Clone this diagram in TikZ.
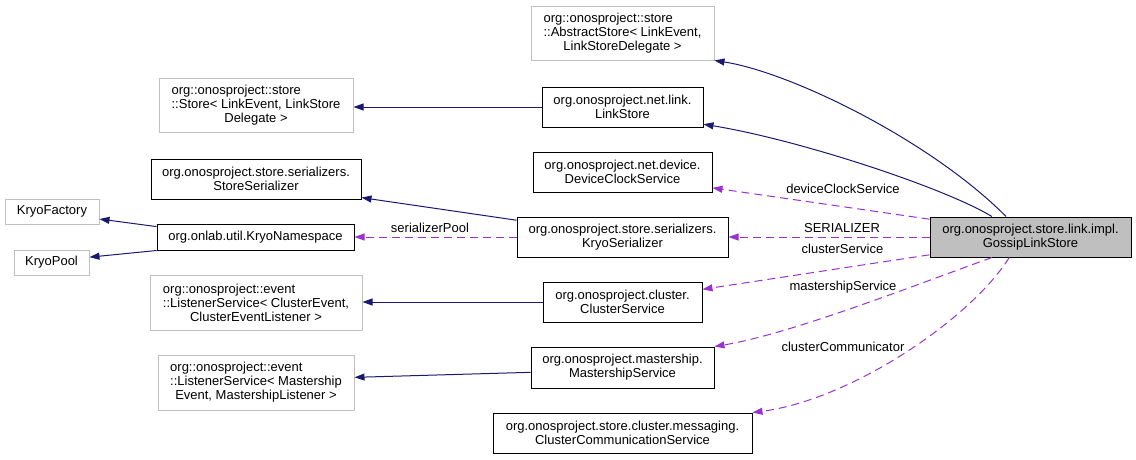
\documentclass[tikz,border=0pt]{standalone}
\usepackage{fontspec}
\setmainfont{Liberation Sans}
\usetikzlibrary{arrows.meta, calc}
\definecolor{inhc}{RGB}{25,25,112}
\definecolor{usec}{RGB}{154,50,205}
\definecolor{extc}{RGB}{191,191,191}
\newcommand{\lline}[2]{\rlap{#1}\phantom{#2}}

\begin{document}
\begin{tikzpicture}[x=1pt, y=-1pt,
    cls/.style={draw=black, line width=1pt, align=center, inner sep=0pt,
      font=\fontsize{13}{14}\selectfont},
    ext/.style={cls, draw=extc},
    inh/.style={-{Triangle[length=10pt,width=7pt]}, inhc, line width=1pt},
    use/.style={inh, usec, dash pattern=on 8pt off 5pt},
    lbl/.style={font=\fontsize{13}{14}\selectfont, inner sep=0pt}]
  \useasboundingbox (0,0) rectangle (1136,459);
  % classes
  \node[cls, fill=extc, minimum width=201pt, minimum height=40pt] (gls) at (1030.5,237)
    {org.onosproject.store.link.impl.\\GossipLinkStore};
  \node[ext, minimum width=183pt, minimum height=54pt] (abs) at (622.5,33)
    {\lline{org::onosproject::store}{::AbstractStore< LinkEvent,}\\::AbstractStore< LinkEvent,\\LinkStoreDelegate >};
  \node[ext, minimum width=194pt, minimum height=54pt] (store) at (256,105)
    {\lline{org::onosproject::store}{::Store< LinkEvent, LinkStore}\\::Store< LinkEvent, LinkStore\\Delegate >};
  \node[cls, minimum width=161pt, minimum height=40pt] (link) at (622.5,107)
    {org.onosproject.net.link.\\LinkStore};
  \node[cls, minimum width=179pt, minimum height=40pt] (dcs) at (622.5,172)
    {org.onosproject.net.device.\\DeviceClockService};
  \node[cls, minimum width=210pt, minimum height=40pt] (sser) at (256,179)
    {org.onosproject.store.serializers.\\StoreSerializer};
  \node[ext, minimum width=94pt, minimum height=25pt] (kfac) at (52,211.5) {KryoFactory};
  \node[cls, minimum width=197pt, minimum height=26pt] (kns) at (255.5,237) {org.onlab.util.KryoNamespace};
  \node[ext, minimum width=75pt, minimum height=25pt] (kpool) at (51.5,262.5) {KryoPool};
  \node[cls, minimum width=211pt, minimum height=40pt] (kser) at (622.5,237)
    {org.onosproject.store.serializers.\\KryoSerializer};
  \node[ext, minimum width=212pt, minimum height=55pt] (lsc) at (256,302.5)
    {\lline{org::onosproject::event}{::ListenerService< ClusterEvent,}\\::ListenerService< ClusterEvent,\\ClusterEventListener >};
  \node[cls, minimum width=159pt, minimum height=40pt] (cs) at (622.5,302)
    {org.onosproject.cluster.\\ClusterService};
  \node[ext, minimum width=196pt, minimum height=55pt] (lsm) at (256,382.5)
    {\lline{org::onosproject::event}{::ListenerService< Mastership}\\::ListenerService< Mastership\\Event, MastershipListener >};
  \node[cls, minimum width=183pt, minimum height=41pt] (ms) at (622.5,367.5)
    {org.onosproject.mastership.\\MastershipService};
  \node[cls, minimum width=259pt, minimum height=40pt] (ccs) at (622.5,433)
    {org.onosproject.store.cluster.messaging.\\ClusterCommunicationService};
  % inheritance
  \draw[inh] (gls.140) .. controls (930,140) and (790,72) .. (abs.south east);
  \draw[inh] (gls.152) .. controls (945,188) and (800,140) .. (link.-12);
  \draw[inh] (link.west) -- (link.west -| store.east);
  \draw[inh] (kser.171) -- (sser.-10);
  \draw[inh] (kns.174) -- (kfac.-9);
  \draw[inh] (kns.south west) -- (kpool.8);
  \draw[inh] (cs.west) -- (cs.west -| lsc.east);
  \draw[inh] (ms.183) -- (lsm.3);
  % usage
  \draw[use] (gls.170) -- (dcs.-10);
  \draw[use] (gls.west) -- (kser.east);
  \draw[use] (gls.190) -- (cs.9);
  \draw[use] (gls.208) .. controls (910,287) and (790,334) .. (ms.north east);
  \draw[use] (gls.224) .. controls (970,320) and (850,400) .. (ccs.north east);
  \draw[use] (kser.west) -- (kns.east);
  \node[lbl] (ldcs) at (843,188.5) {deviceClockService};
  \node[lbl] (lser) at (842,228.5) {SERIALIZER};
  \node[lbl] (lcs) at (842.5,248.5) {clusterService};
  \node[lbl] (lms) at (843,287.5) {mastershipService};
  \node[lbl] (lccs) at (843,346.5) {clusterCommunicator};
  \node[lbl] (lpool) at (430,228) {serializerPool};
\end{tikzpicture}
\end{document}
